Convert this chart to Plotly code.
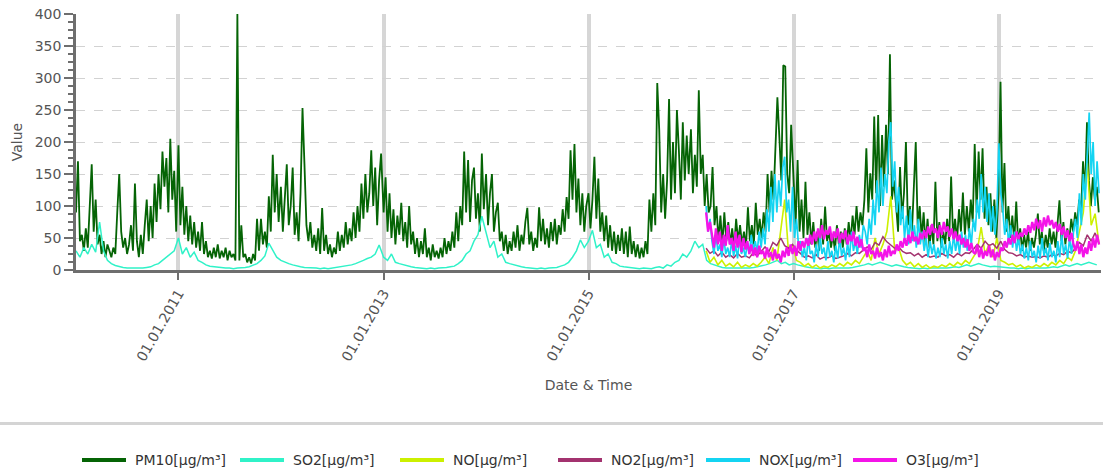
import pandas as pd
import plotly.graph_objects as go

# ---------------- data ----------------
years = list(range(2010, 2020))

# PM10, weekly estimates, 52 per year (2010 ... 2019)
pm10 = (
    [90,170,45,55,30,65,35,100,165,60,110,40,55,25,45,20,40,30,20,35,25,90,150,60,35,50,
     25,40,70,30,135,45,20,55,25,70,110,45,100,50,135,75,150,95,185,130,175,90,205,110,155,60]
    + [195,70,130,55,100,45,85,40,75,35,60,30,75,25,45,20,30,18,35,20,40,18,30,20,35,15,
       30,20,25,15,400,15,70,20,25,12,20,10,25,15,80,30,80,40,60,35,115,60,180,90,150,75]
    + [130,60,115,165,70,100,160,55,90,45,120,253,165,70,45,75,35,55,30,65,25,97,30,55,25,40,
       20,35,25,60,30,55,35,75,40,65,45,90,50,100,60,135,80,150,90,120,187,100,160,70,140,182]
    + [90,145,60,120,50,95,40,85,55,105,45,75,35,100,40,60,25,50,20,45,25,65,20,35,15,40,
       20,30,18,35,20,50,25,45,30,60,35,90,45,100,70,185,90,172,75,140,160,80,120,60,182,95]
    + [150,70,120,150,60,90,105,45,60,30,55,25,45,30,60,35,70,30,55,40,75,97,40,60,30,50,
       35,98,45,80,40,65,35,75,45,80,40,70,55,95,60,114,80,187,110,197,90,143,70,120,60,100]
    + [120,65,110,177,80,143,60,90,45,85,35,70,30,60,25,55,30,65,25,60,20,68,25,45,20,40,
       18,35,20,45,25,110,60,120,70,292,219,90,150,80,140,267,110,200,120,250,187,110,231,140,210,150]
    + [220,120,180,130,281,150,180,100,150,90,100,161,70,100,45,85,40,90,45,75,40,65,35,80,45,70,
       40,60,35,98,45,70,40,105,55,80,50,90,60,150,90,155,110,203,270,208,140,320,318,150,120,227]
    + [150,70,172,60,110,50,138,55,90,40,75,35,60,30,80,40,99,45,60,35,55,30,70,40,60,35,
       65,40,75,45,85,55,100,60,90,70,110,190,90,151,110,240,120,242,100,211,130,227,150,337,110,140]
    + [100,60,161,80,120,200,70,100,55,120,200,65,100,50,90,40,80,35,70,40,138,45,75,35,60,40,
       80,45,146,50,80,45,95,60,121,55,100,60,110,75,197,90,185,110,190,80,130,70,120,60,110,50]
    + [120,294,90,167,60,100,50,85,45,107,40,65,30,55,35,60,30,50,35,55,88,40,60,30,55,35,
       65,40,60,35,70,109,45,75,40,65,45,80,60,90,70,110,90,170,120,231,140,100,145,110,130,90]
)

# SO2, fortnightly estimates, 26 per year (2010 ... 2019)
so2 = (
    [30,20,35,25,40,28,75,30,15,10,7,5,4,3,3,2,3,3,4,5,8,10,15,20,25,30]
    + [50,25,35,20,28,15,12,8,6,5,4,3,3,3,2,3,3,4,5,7,10,15,22,42,30,20]
    + [15,12,10,8,6,5,4,4,3,3,2,3,2,3,3,4,5,6,8,10,12,15,18,20,25,39]
    + [20,15,25,12,10,8,6,5,4,3,3,2,3,2,3,3,4,5,6,10,15,25,30,45,55,84]
    + [60,35,45,20,25,12,10,8,6,5,4,3,3,2,3,2,3,3,4,6,8,12,20,30,47,35]
    + [45,62,35,40,20,25,12,10,6,5,4,3,3,2,3,3,2,4,5,3,8,6,12,15,25,20]
    + [30,45,35,40,15,10,8,5,4,3,3,2,3,3,2,3,4,5,6,8,10,12,15,10,12,8]
    + [10,8,6,5,4,3,3,2,3,2,3,3,2,3,3,4,5,6,8,10,8,10,12,10,8,6]
    + [8,6,5,4,3,3,2,3,2,3,3,2,3,3,4,5,4,6,8,6,8,10,8,6,5,6]
    + [5,4,4,3,3,2,3,2,3,3,2,3,3,4,5,4,6,8,6,8,10,8,10,12,10,8]
)

# NO and NO2, fortnightly estimates from late February 2016
no_start = "2016-02-24"
no = [30,12,20,8,15,6,
      10,5,12,4,8,5,10,6,12,
      20,10,35,15,60,110,25,40,15,
      12,6,10,4,8,3,6,4,8,5,10,6,12,8,15,10,20,
      30,15,50,25,40,60,115,30,35,
      15,8,12,5,10,4,8,3,6,4,8,5,10,6,12,8,15,10,20,
      30,67,25,40,20,50,15,
      12,8,10,5,8,3,6,4,8,5,10,6,12,8,15,10,20,15,
      30,60,90,167,70,88,40]
no2 = [34,26,30,22,28,20,
       24,19,26,20,22,19,27,22,29,
       36,29,43,38,50,38,34,40,31,
       26,20,22,19,24,17,20,19,22,18,20,22,26,22,27,26,31,
       36,32,43,39,52,44,39,34,36,
       29,26,27,22,26,20,24,20,22,20,26,22,24,20,26,22,27,26,32,
       40,34,45,38,41,34,45,
       32,27,26,22,24,20,22,20,21,19,22,20,24,22,26,24,29,27,
       34,43,38,55,45,58,41]

# NOX and O3, weekly estimates from late February 2016
nox = ([100,60,80]
       + [45,25,55,30,40,20,50,25,35,20,45,22,38,18,50,25,35,20,42,25,55,30,45,28,60,35]
       + [65,40,95,60,130,75,150,90,140,100,160,177,90]
       + [110,60,130,50,80,40]
       + [45,20,35,15,50,25,30,12,40,20,55,25,35,15,45,20,30,12,38,18,50,22,35,15,42,20,60,30,45,25,55,35,70]
       + [60,40,80,55,110,70,140,90,160,100,150,120,200,231,130,170,90]
       + [130,70,100,50,85,40,95,45,70,35,80,40,60,30,50,20,45,25,40,18,35,20,50,25,40,18,45,25,55,30,50,25,60,35,55,30,65,40,80]
       + [60,110,80,150,90,130,75,120,60,100,55,90,198,120]
       + [95,55,80,40,70,35,60,30,50,25]
       + [40,18,35,15,45,20,30,12,38,18,50,22,35,15,42,20,30,12,45,20,55,25,40,18,50,25,60]
       + [80,50,120,70,150,110,180,246,150,200,100,170,120])
o3 = ([90,60,75]
      + [55,35,65,40,60,30,55,38,70,40,50,30,60,35,55,28,50,32,45,25,40,22,35,20,38,25]
      + [30,18,35,20,28,15,32,18,25,12,30,20,35,22,40,25,38,22,45]
      + [30,45,35,50,38,55,40,60,45,65,50,70,48,62,55,68,45,60,50,65,42,58,48,62,40,55,45,60,38,52,35,48,30]
      + [35,20,40,25,30,18,35,20,28,15,32,20,38,22,30,25,40]
      + [30,45,35,50,38,55,42,60,45,52,40,58,48,62,50,68,55,72,58,65,50,70,55,75,60,68,52,65,48,60,45,55,40,50,35,48,30,42,28]
      + [25,40,20,35,18,30,22,38,20,32,15,28,20,35]
      + [30,45,35,50,40,55,42,60,48,58,52,65,55,70,58,75,62,80,65,78,60,82,68,85,70,78,65,75,60,72,55,68,50,62,45,58,40]
      + [30,45,25,40,20,35,25,45,30,50,35,55,40])

series_names = ["PM10[µg/m³]", "SO2[µg/m³]", "NO[µg/m³]", "NO2[µg/m³]", "NOX[µg/m³]", "O3[µg/m³]"]
series_colors = ["#056405", "#30f2c8", "#ccf000", "#a3336f", "#14d4f2", "#f414e8"]
series_widths = [1.8, 1.5, 1.6, 1.5, 1.7, 2.3]

y_ticks = [0, 50, 100, 150, 200, 250, 300, 350, 400]


# ---------------- dates ----------------
def per_year_dates(n_per_year, step_days):
    out = []
    for yr in years:
        out.extend(pd.date_range(f"{yr}-01-01", periods=n_per_year, freq=f"{step_days}D"))
    return out


x_pm10 = per_year_dates(52, 7)[:len(pm10)]
x_so2 = per_year_dates(26, 14)[:len(so2)]
x_no = pd.date_range(no_start, periods=len(no), freq="14D")
x_no2 = pd.date_range(no_start, periods=len(no2), freq="14D")
x_nox = pd.date_range(no_start, periods=len(nox), freq="7D")
x_o3 = pd.date_range(no_start, periods=len(o3), freq="7D")

xs = [x_pm10, x_so2, x_no, x_no2, x_nox, x_o3]
ys = [pm10, so2, no, no2, nox, o3]

fig = go.Figure()
for name, color, lw, x, y in zip(series_names, series_colors, series_widths, xs, ys):
    fig.add_trace(go.Scatter(x=x, y=y, name=name, mode="lines",
                             line=dict(color=color, width=lw),
                             showlegend=False))

FONT = "DejaVu Sans"
W, H = 1103, 475
L, R, T, B = 76, 2, 14, 205
pw, ph = W - L - R, H - T - B


def px_to_paper_x(px):      # px: page coordinate
    return (px - L) / pw


def px_to_paper_y(py):
    return (H - B - py) / ph


# manual legend (long thick keys as in the reference)
legend_key_px = [82, 240, 400, 558, 706, 853]
legend_y_px = 460
shapes = []
annotations = []
for name, color, kx in zip(series_names, series_colors, legend_key_px):
    shapes.append(dict(type="line", xref="paper", yref="paper",
                       x0=px_to_paper_x(kx), x1=px_to_paper_x(kx + 44),
                       y0=px_to_paper_y(legend_y_px), y1=px_to_paper_y(legend_y_px),
                       line=dict(color=color, width=4)))
    annotations.append(dict(xref="paper", yref="paper",
                            x=px_to_paper_x(kx + 51), y=px_to_paper_y(legend_y_px),
                            text=name, showarrow=False, xanchor="left", yanchor="middle",
                            font=dict(family=FONT, size=14, color="#333333")))
# separator above the legend
shapes.append(dict(type="line", xref="paper", yref="paper",
                   x0=px_to_paper_x(0), x1=px_to_paper_x(W),
                   y0=px_to_paper_y(423.5), y1=px_to_paper_y(423.5),
                   line=dict(color="#d4d4d4", width=3)))

fig.update_layout(
    width=W, height=H,
    margin=dict(l=L, r=R, t=T, b=B, autoexpand=False),
    paper_bgcolor="white", plot_bgcolor="white",
    font=dict(family=FONT, size=14, color="#555555"),
    shapes=shapes, annotations=annotations,
    showlegend=False,
)

fig.update_xaxes(
    range=["2010-01-01", "2020-01-01"],
    tick0="2011-01-01", dtick="M24", tickformat="%d.%m.%Y", tickangle=-60,
    ticks="outside", ticklen=7, tickwidth=2, tickcolor="#6e6e6e",
    tickfont=dict(family=FONT, size=14, color="#555555"),
    ticklabeloverflow="allow",
    showgrid=True, gridcolor="#d6d6d6", gridwidth=4,
    showline=True, linecolor="#6e6e6e", linewidth=2.5,
    zeroline=False,
    title=dict(text="Date & Time", standoff=18,
               font=dict(family=FONT, size=14, color="#555555")),
)

fig.update_yaxes(
    range=[0, 400], tickvals=y_ticks,
    ticks="outside", ticklen=9, tickwidth=2, tickcolor="#6e6e6e",
    tickfont=dict(family=FONT, size=14, color="#555555"),
    ticklabeloverflow="allow",
    minor=dict(dtick=12.5, ticks="outside", ticklen=5, tickwidth=2,
               tickcolor="#6e6e6e", showgrid=False),
    showgrid=True, gridcolor="#d2d2d2", gridwidth=1, griddash="dash",
    showline=True, linecolor="#6e6e6e", linewidth=2.5,
    zeroline=False,
    title=dict(text="Value", standoff=9,
               font=dict(family=FONT, size=14, color="#555555")),
)

# remove the browser's default page margin so the figure fills the window
fig.write_html("out.html",
               config={"displayModeBar": False},
               post_script="document.body.style.margin='0';document.body.style.overflow='hidden';")
